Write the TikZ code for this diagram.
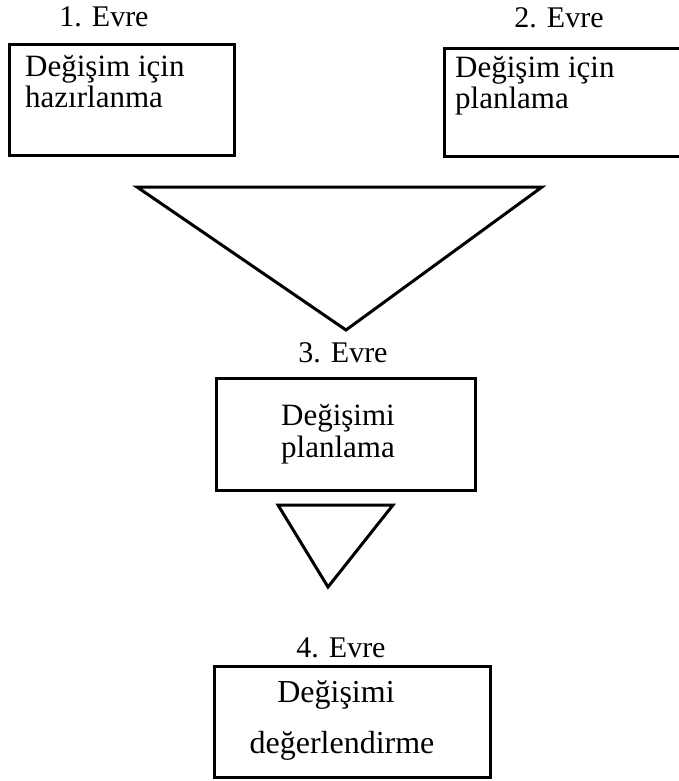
\documentclass[tikz,border=0pt]{standalone}
\usepackage{fontspec}
\setmainfont{Liberation Serif}
\begin{document}
\begin{tikzpicture}[x=1pt,y=-1pt,
  box/.style={draw=black, line width=3pt, rectangle, inner sep=0pt, anchor=north west},
  lbl/.style={inner sep=0pt, font=\fontsize{30}{32}\selectfont, anchor=base},
  txt/.style={inner sep=0pt, font=\fontsize{31}{32}\selectfont},
  tri/.style={draw=black, line width=3pt, line join=miter}]
\useasboundingbox (0,0) rectangle (679,781);
\clip (0,0) rectangle (679,781);
% boxes
\node[box, minimum width=225pt, minimum height=111pt] (b1) at (8,43) {};
\node[box, minimum width=250pt, minimum height=108pt] (b2) at (443,47) {};
\node[box, minimum width=259pt, minimum height=112pt] (b3) at (215,377) {};
\node[box, minimum width=276pt, minimum height=111pt] (b4) at (213,665) {};
% phase labels
\node[lbl] (e1) at (104,27) {1. Evre};
\node[lbl] (e2) at (559,28) {2. Evre};
\node[lbl] (e3) at (343,362) {3. Evre};
\node[lbl] (e4) at (341,657) {4. Evre};
% box texts
\node[txt, anchor=base west] (t1a) at (25,77) {Değişim için};
\node[txt, anchor=base west] (t1b) at (25,108) {hazırlanma};
\node[txt, anchor=base west] (t2a) at (455,78) {Değişim için};
\node[txt, anchor=base west] (t2b) at (455,109) {planlama};
\node[txt, anchor=base] (t3a) at (338,425) {Değişimi};
\node[txt, anchor=base] (t3b) at (338,457) {planlama};
\node[txt, anchor=base, font=\fontsize{32}{32}\selectfont] (t4a) at (336,702) {Değişimi};
\node[txt, anchor=base, font=\fontsize{32}{32}\selectfont] (t4b) at (342,753) {değerlendirme};
% triangles
\coordinate (p1) at (137,187);
\coordinate (p2) at (542,187);
\coordinate (p3) at (346,330);
\draw[tri] (p1) -- (p2) -- (p3) -- cycle;
\coordinate (q1) at (278,505);
\coordinate (q2) at (393,505);
\coordinate (q3) at (328,587);
\draw[tri] (q1) -- (q2) -- (q3) -- cycle;
\end{tikzpicture}
\end{document}
